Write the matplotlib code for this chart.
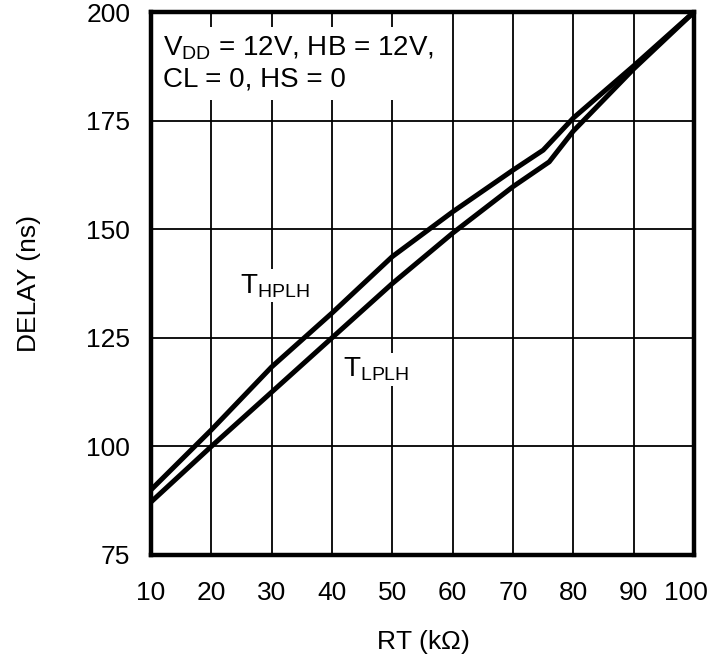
import matplotlib
matplotlib.use('Agg')
import matplotlib.pyplot as plt
from matplotlib.transforms import ScaledTranslation

plt.rcParams['font.family'] = ['Liberation Sans', 'DejaVu Sans']
plt.rcParams['mathtext.default'] = 'regular'

# propagation delay vs RT
rt_h = [10, 20, 30, 40, 50, 60, 70, 75, 80, 90, 100]
t_hplh = [90.0, 103.8, 118.3, 130.7, 143.7, 154.0, 163.6, 168.2, 175.6, 187.6, 200.0]
rt_l = [10, 20, 30, 40, 50, 60, 70, 76, 80, 90, 100]
t_lplh = [87.2, 100.0, 112.5, 125.0, 137.5, 149.1, 159.8, 165.5, 172.6, 186.9, 200.0]

xticks = [10, 20, 30, 40, 50, 60, 70, 80, 90, 100]
yticks = [75, 100, 125, 150, 175, 200]

fig = plt.figure(figsize=(7.12, 6.57), dpi=100)
ax = fig.add_axes([151/712, 1 - 555/657, 543/712, 543/657])

ax.plot(rt_h, t_hplh, color='black', lw=3.6, zorder=3)
ax.plot(rt_l, t_lplh, color='black', lw=3.6, zorder=3)

ax.set_xlim(10, 100)
ax.set_ylim(75, 200)
ax.set_xticks(xticks)
ax.set_yticks(yticks)
ax.grid(True, color='black', lw=1.3)
ax.tick_params(length=0, labelsize=19)
ax.tick_params(axis='x', pad=19)
ax.tick_params(axis='y', pad=15)
for s in ax.spines.values():
    s.set_linewidth(3.2)
    s.set_zorder(4)

# pull the last x label in so it stays inside the figure
last = ax.get_xticklabels()[-1]
last.set_transform(last.get_transform() + ScaledTranslation(-6/72, 0, fig.dpi_scale_trans))

ax.set_xlabel(r'RT (k$\Omega$)', fontsize=19)
ax.set_ylabel('DELAY (ns)', fontsize=19)
ax.xaxis.set_label_coords(0.5, -0.1344)
ax.yaxis.set_label_coords(-0.2033, 0.5)

ax.text(12.0, 194.9, 'V$_{DD}$ = 12V, HB = 12V,\nCL = 0, HS = 0', fontsize=20,
        va='top', ha='left', linespacing=1.26, zorder=5,
        bbox=dict(facecolor='white', edgecolor='none', pad=5))

ax.text(24.75, 135.3, 'T$_{HPLH}$', fontsize=20, va='baseline', ha='left', zorder=5,
        bbox=dict(facecolor='white', edgecolor='none', pad=2))
ax.text(41.8, 116.0, 'T$_{LPLH}$', fontsize=20, va='baseline', ha='left', zorder=5,
        bbox=dict(facecolor='white', edgecolor='none', pad=2))

fig.savefig('out.png', dpi=100)
